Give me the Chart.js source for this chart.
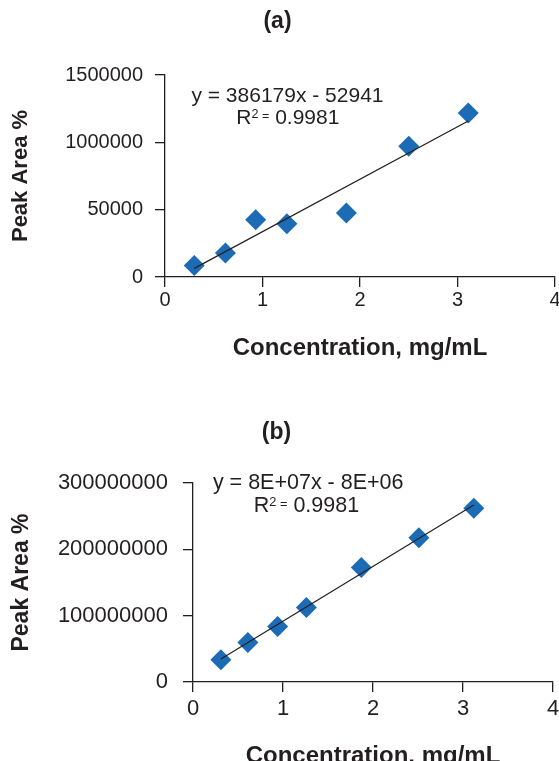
<!DOCTYPE html>
<html>
<head>
<meta charset="utf-8">
<script src="https://cdn.jsdelivr.net/npm/chart.js@4.4.1/dist/chart.umd.min.js"></script>
<style>
  html, body { margin: 0; padding: 0; background: #fff; width: 559px; height: 761px; overflow: hidden; }
  .panel { position: absolute; left: 0; }
</style>
</head>
<body>
<div class="panel" style="top:0"><canvas id="chartA" width="575" height="380" style="width:575px;height:380px"></canvas></div>
<div class="panel" style="top:380px"><canvas id="chartB" width="575" height="400" style="width:575px;height:400px"></canvas></div>
<script>
// Panel (a) data
const concA = [0.3, 0.62, 0.93, 1.25, 1.86, 2.5, 3.11];
const areaA = [86000, 178000, 426000, 396000, 475000, 970000, 1218000];
const yTicksA = [0, 500000, 1000000, 1500000];
const yLabelsA = ['0', '50000', '1000000', '1500000']; // printed that way in the figure

// Panel (b) data
const concB = [0.31, 0.61, 0.94, 1.26, 1.87, 2.51, 3.12];
const areaB = [33500000, 59500000, 83500000, 112500000, 172500000, 217500000, 262000000];
const yTicksB = [0, 100000000, 200000000, 300000000];
const yLabelsB = ['0', '100000000', '200000000', '300000000'];

const xTicks = [0, 1, 2, 3, 4];
const xLabels = ['0', '1', '2', '3', '4'];
const eqLabels = ['y = 386179x - 52941', 'y = 8E+07x - 8E+06'];
const r2Labels = ['0.9981', '0.9981'];

const FONT = '"Liberation Sans", Arial, Helvetica, sans-serif';
const INK = '#231f20';
const BLUE = '#1c6bb5';

// least squares trend line, drawn from first to last concentration
function trendLine(xs, ys) {
    const n = xs.length;
    const mx = xs.reduce((a, b) => a + b, 0) / n;
    const my = ys.reduce((a, b) => a + b, 0) / n;
    let sxy = 0, sxx = 0;
    for (let i = 0; i < n; i++) {
        sxy += (xs[i] - mx) * (ys[i] - my);
        sxx += (xs[i] - mx) * (xs[i] - mx);
    }
    const k = sxy / sxx, b = my - k * mx;
    const x0 = Math.min(...xs), x1 = Math.max(...xs);
    return [{ x: x0, y: k * x0 + b }, { x: x1, y: k * x1 + b }];
}

// equation + R² text, anchored in data units
const eqPlugin = {
    id: 'eqText',
    afterDatasetsDraw(chart, args, opts) {
        const { ctx, scales: { x, y } } = chart;
        const fs = opts.size;
        ctx.save();
        ctx.fillStyle = INK;
        ctx.textBaseline = 'alphabetic';
        ctx.textAlign = 'left';

        ctx.font = fs + 'px ' + FONT;
        let cx = x.getPixelForValue(opts.eqAt[0]);
        let cy = y.getPixelForValue(opts.eqAt[1]);
        const w = ctx.measureText(opts.eq).width;
        ctx.fillText(opts.eq, cx - w / 2, cy + 0.36 * fs);

        cx = x.getPixelForValue(opts.r2At[0]);
        cy = y.getPixelForValue(opts.r2At[1]);
        const base = cy + 0.36 * fs;
        const small = fs * 0.6;
        ctx.font = fs + 'px ' + FONT;
        const wR = ctx.measureText('R').width;
        const wV = ctx.measureText(' ' + opts.r2).width;
        ctx.font = small + 'px ' + FONT;
        const w2 = ctx.measureText('2').width;
        const wE = ctx.measureText(' =').width;
        let px = cx - (wR + w2 + wE + wV) / 2;
        ctx.font = fs + 'px ' + FONT;
        ctx.fillText('R', px, base); px += wR;
        ctx.font = small + 'px ' + FONT;
        ctx.fillText('2', px, base - 0.29 * fs); px += w2;
        ctx.fillText(' =', px, base - 0.19 * fs); px += wE;
        ctx.font = fs + 'px ' + FONT;
        ctx.fillText(' ' + opts.r2, px, base);
        ctx.restore();
    }
};

function makeChart(id, p) {
    return new Chart(document.getElementById(id), {
        type: 'scatter',
        data: {
            datasets: [
                {
                    data: trendLine(p.xs, p.ys),
                    showLine: true,
                    borderColor: INK,
                    borderWidth: 1.2,
                    pointRadius: 0
                },
                {
                    data: p.xs.map((v, i) => ({ x: v, y: p.ys[i] })),
                    pointStyle: 'rectRot',
                    pointRadius: 10.5,
                    backgroundColor: BLUE,
                    borderColor: BLUE,
                    borderWidth: 0
                }
            ]
        },
        options: {
            responsive: false,
            animation: false,
            layout: { padding: { left: 0, top: 0, right: p.padRight, bottom: p.padBottom } },
            plugins: {
                legend: { display: false },
                tooltip: { enabled: false },
                title: {
                    display: true,
                    text: p.title,
                    color: INK,
                    font: { family: FONT, size: 23, weight: 'bold' },
                    padding: { top: p.titleTop, bottom: p.titleBottom }
                },
                eqText: { eq: p.eq, r2: p.r2, eqAt: p.eqAt, r2At: p.r2At, size: p.eqSize }
            },
            scales: {
                x: {
                    type: 'linear',
                    min: 0, max: 4,
                    afterBuildTicks: s => { s.ticks = xTicks.map(v => ({ value: v })); },
                    afterFit: s => { s.height = p.xHeight; },
                    ticks: {
                        color: INK,
                        font: { family: FONT, size: p.tickSize },
                        padding: p.xTickPad,
                        maxRotation: 0,
                        callback: v => xLabels[xTicks.indexOf(v)]
                    },
                    grid: { drawOnChartArea: false, drawTicks: true, tickLength: 10, color: INK, lineWidth: 1.3 },
                    border: { display: true, color: INK, width: 1.3 },
                    title: {
                        display: true,
                        text: 'Concentration, mg/mL',
                        color: INK,
                        font: { family: FONT, size: 24, weight: 'bold' },
                        padding: { top: 0, bottom: 4 }
                    }
                },
                y: {
                    type: 'linear',
                    min: 0, max: p.yTicks[p.yTicks.length - 1],
                    afterBuildTicks: s => { s.ticks = p.yTicks.map(v => ({ value: v })); },
                    afterFit: s => { s.width = p.yWidth; },
                    ticks: {
                        color: INK,
                        font: { family: FONT, size: p.tickSize },
                        padding: p.yTickPad,
                        callback: v => p.yLabels[p.yTicks.indexOf(v)]
                    },
                    grid: { drawOnChartArea: false, drawTicks: true, tickLength: 10, color: INK, lineWidth: 1.3 },
                    border: { display: true, color: INK, width: 1.3 },
                    title: {
                        display: true,
                        text: 'Peak Area %',
                        color: INK,
                        font: { family: FONT, size: p.yTitleSize, weight: 'bold' },
                        padding: { top: 8, bottom: 0 }
                    }
                }
            }
        },
        plugins: [eqPlugin]
    });
}

makeChart('chartA', {
    xs: concA, ys: areaA, yTicks: yTicksA, yLabels: yLabelsA,
    title: '(a)', titleTop: 8, titleBottom: 39.4,
    padRight: 20, padBottom: 13, xHeight: 90, yWidth: 165,
    tickSize: 20, xTickPad: 1, yTickPad: 12, yTitleSize: 22,
    eq: eqLabels[0], r2: r2Labels[0], eqAt: [1.256, 1352000], r2At: [1.26, 1190000], eqSize: 21
});

makeChart('chartB', {
    xs: concB, ys: areaB, yTicks: yTicksB, yLabels: yLabelsB,
    title: '(b)', titleTop: 39.2, titleBottom: 36.2,
    padRight: 22, padBottom: 5, xHeight: 93, yWidth: 193,
    tickSize: 22, xTickPad: 4, yTickPad: 15, yTitleSize: 23,
    eq: eqLabels[1], r2: r2Labels[1], eqAt: [1.28, 303000000], r2At: [1.26, 268000000], eqSize: 21.5
});
</script>
</body>
</html>
